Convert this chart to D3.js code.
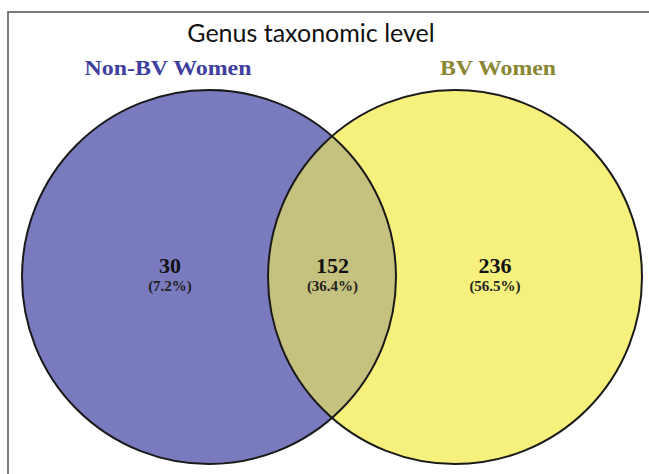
<!DOCTYPE html>
<html><head><meta charset="utf-8">
<script src="https://cdn.jsdelivr.net/npm/d3@7"></script>
<style>html,body{margin:0;padding:0;background:#fff;}svg{display:block;}</style>
</head><body>
<svg id="c" width="649" height="474"></svg>
<script>
const title = "Genus taxonomic level";
const setNames = ["Non-BV Women", "BV Women"];
const regionLabels = ["Non-BV only", "Shared", "BV only"];
const regionCounts = [30, 152, 236];
const regionPercents = ["(7.2%)", "(36.4%)", "(56.5%)"];
const setColors = ["#7a7abf", "#f6f07c"];
const overlapColor = "#c5c17e";
const setNameColors = ["#3f3fa0", "#8a8532"];

const svg = d3.select("#c");
const xSet = d3.scaleLinear().domain([0, 1]).range([209, 455]);
const xLabel = d3.scaleLinear().domain([0, 1]).range([168, 498]);
const xRegion = d3.scalePoint().domain(regionLabels).range([170, 495]);
const cy = 277, r = 187;

svg.append("rect").attr("x", 8).attr("y", 12).attr("width", 700).attr("height", 500)
  .attr("fill", "#fff").attr("stroke", "#6e6e6e").attr("stroke-width", 1.8);

svg.append("text").attr("x", 311).attr("y", 42).attr("text-anchor", "middle")
  .attr("font-family", "Lato, 'Open Sans', sans-serif").attr("font-size", 25)
  .attr("fill", "#111").text(title);

const labelWidths = [167, 116];
svg.selectAll("text.setname").data(setNames).join("text").attr("class", "setname")
  .attr("x", (d, i) => xLabel(i)).attr("y", 75).attr("text-anchor", "middle")
  .attr("font-family", "'Liberation Serif', 'Times New Roman', serif").attr("font-weight", "bold")
  .attr("font-size", 21).attr("fill", (d, i) => setNameColors[i])
  .attr("textLength", (d, i) => labelWidths[i]).attr("lengthAdjust", "spacingAndGlyphs")
  .text(d => d);

const defs = svg.append("defs");
defs.append("clipPath").attr("id", "clipL").append("circle")
  .attr("cx", xSet(0)).attr("cy", cy).attr("r", r);

svg.selectAll("circle.set").data(setNames).join("circle").attr("class", "set")
  .attr("cx", (d, i) => xSet(i)).attr("cy", cy).attr("r", r)
  .attr("fill", (d, i) => setColors[i]);

svg.append("circle").attr("cx", xSet(1)).attr("cy", cy).attr("r", r)
  .attr("clip-path", "url(#clipL)").attr("fill", overlapColor);

svg.selectAll("circle.outline").data(setNames).join("circle").attr("class", "outline")
  .attr("cx", (d, i) => xSet(i)).attr("cy", cy).attr("r", r)
  .attr("fill", "none").attr("stroke", "#1a1a1a").attr("stroke-width", 2);

const g = svg.selectAll("g.region").data(regionLabels).join("g").attr("class", "region")
  .attr("transform", d => `translate(${xRegion(d)},0)`);
g.append("text").attr("y", 273).attr("text-anchor", "middle")
  .attr("font-family", "'Liberation Serif', 'Times New Roman', serif").attr("font-weight", "bold")
  .attr("font-size", 22).attr("fill", "#111").text((d, i) => regionCounts[i]);
g.append("text").attr("y", 291).attr("text-anchor", "middle")
  .attr("font-family", "'Liberation Serif', 'Times New Roman', serif").attr("font-weight", "bold")
  .attr("font-size", 15).attr("fill", "#222").text((d, i) => regionPercents[i]);
</script>
</body></html>
